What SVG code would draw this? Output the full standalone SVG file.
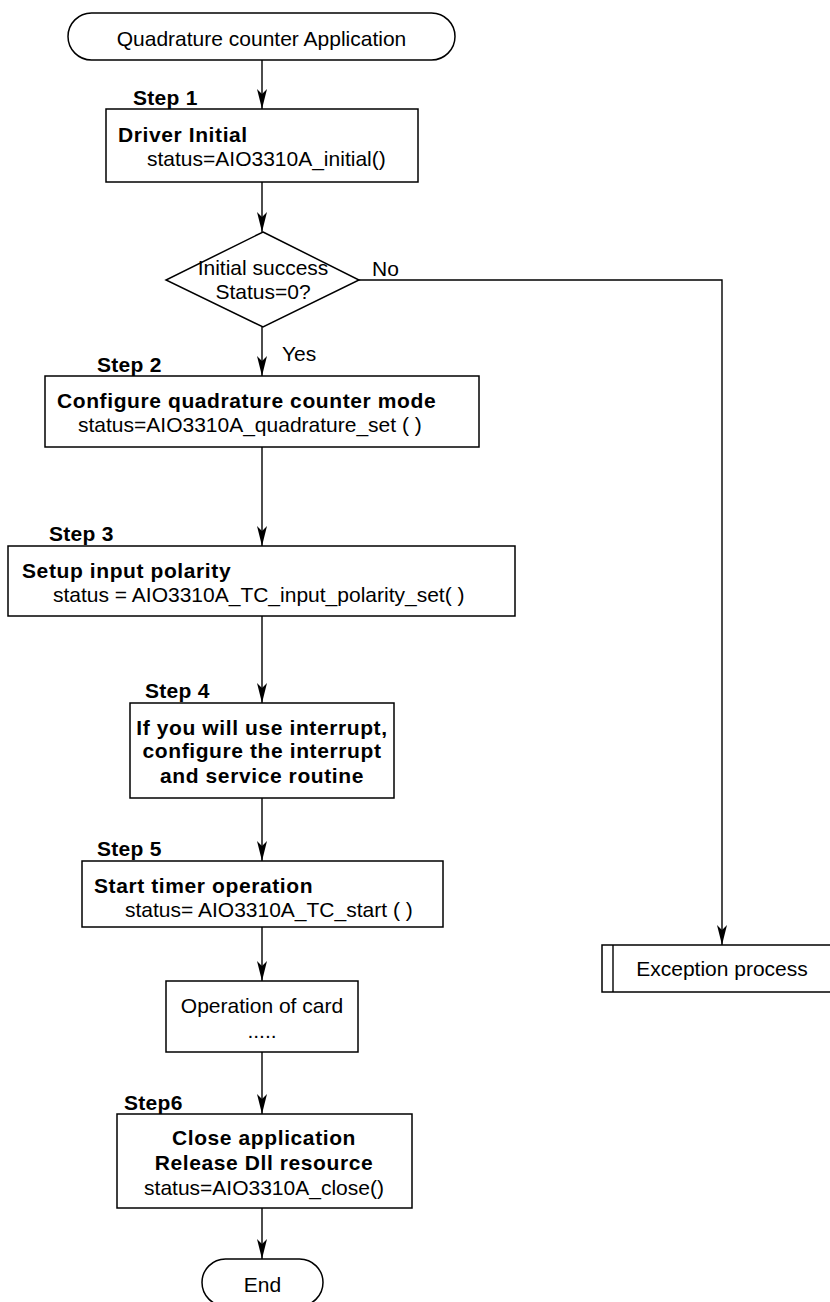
<svg xmlns="http://www.w3.org/2000/svg" width="830" height="1302" viewBox="0 0 830 1302">
<style>
.box{fill:#fff;stroke:#000;stroke-width:1.5}
.ln{fill:none;stroke:#000;stroke-width:1.4}
text{font-family:"Liberation Sans",Arial,sans-serif;font-size:21px;fill:#000}
.b{font-weight:bold;letter-spacing:0.6px}
.s{font-weight:bold;letter-spacing:0.3px}
.c{text-anchor:middle}
</style>
<defs>
<marker id="ah" markerUnits="userSpaceOnUse" markerWidth="12" markerHeight="22" viewBox="-6 -21 12 22" refX="0" refY="0" orient="auto-start-reverse" overflow="visible">
<path d="M0,0 L-5,-20 L0,-15 L5,-20 Z" fill="#000" transform="rotate(-90)"/>
</marker>
</defs>
<rect width="830" height="1302" fill="#fff"/>
<g id="connectors">
<line class="ln" x1="262" y1="60" x2="262" y2="109" marker-end="url(#ah)"/>
<line class="ln" x1="262" y1="182" x2="262" y2="232" marker-end="url(#ah)"/>
<line class="ln" x1="262" y1="327" x2="262" y2="376" marker-end="url(#ah)"/>
<polyline class="ln" points="359,280 722,280 722,945" marker-end="url(#ah)"/>
<line class="ln" x1="262" y1="447" x2="262" y2="546" marker-end="url(#ah)"/>
<line class="ln" x1="262" y1="616" x2="262" y2="703" marker-end="url(#ah)"/>
<line class="ln" x1="262" y1="798" x2="262" y2="861" marker-end="url(#ah)"/>
<line class="ln" x1="262" y1="927" x2="262" y2="981" marker-end="url(#ah)"/>
<line class="ln" x1="262" y1="1052" x2="262" y2="1114" marker-end="url(#ah)"/>
<line class="ln" x1="262" y1="1208" x2="262" y2="1259" marker-end="url(#ah)"/>
<text x="372" y="276">No</text>
<text x="282" y="361">Yes</text>
</g>
<g id="start">
<rect class="box" x="68" y="13" width="387" height="47" rx="23.5"/>
<text class="c" x="261.5" y="46">Quadrature counter Application</text>
</g>
<g id="step1">
<text class="s" x="133" y="105">Step 1</text>
<rect class="box" x="106" y="109" width="312" height="73"/>
<text class="b" x="118" y="142">Driver Initial</text>
<text x="147" y="166">status=AIO3310A_initial()</text>
</g>
<g id="decision">
<polygon class="box" points="263,232 359,280 263,327 166,280"/>
<text class="c" x="263" y="275">Initial success</text>
<text class="c" x="263" y="299">Status=0?</text>
</g>
<g id="step2">
<text class="s" x="97" y="372">Step 2</text>
<rect class="box" x="45" y="376" width="434" height="71"/>
<text class="b" x="57" y="408">Configure quadrature counter mode</text>
<text x="78" y="432">status=AIO3310A_quadrature_set ( )</text>
</g>
<g id="step3">
<text class="s" x="49" y="541">Step 3</text>
<rect class="box" x="8" y="546" width="507" height="70"/>
<text class="b" x="22" y="578">Setup input polarity</text>
<text x="53" y="602">status = AIO3310A_TC_input_polarity_set( )</text>
</g>
<g id="step4">
<text class="s" x="145" y="698">Step 4</text>
<rect class="box" x="130" y="703" width="264" height="95"/>
<text class="b c" x="262" y="735">If you will use interrupt,</text>
<text class="b c" x="262" y="758">configure the interrupt</text>
<text class="b c" x="262" y="783">and service routine</text>
</g>
<g id="step5">
<text class="s" x="97" y="856">Step 5</text>
<rect class="box" x="82" y="861" width="361" height="66"/>
<text class="b" x="94" y="893">Start timer operation</text>
<text x="125" y="917">status= AIO3310A_TC_start ( )</text>
</g>
<g id="operation">
<rect class="box" x="166" y="981" width="192" height="71"/>
<text class="c" x="262" y="1013">Operation of card</text>
<text class="c" x="262" y="1038">.....</text>
</g>
<g id="step6">
<text class="s" x="124" y="1110">Step6</text>
<rect class="box" x="117" y="1114" width="295" height="94"/>
<text class="b c" x="264" y="1145">Close application</text>
<text class="b c" x="264" y="1170">Release Dll resource</text>
<text class="c" x="264" y="1195">status=AIO3310A_close()</text>
</g>
<g id="end">
<rect class="box" x="202" y="1259" width="121" height="47" rx="23.5"/>
<text class="c" x="262.5" y="1292">End</text>
</g>
<g id="exception">
<rect class="box" x="602" y="945" width="240" height="47"/>
<line class="ln" x1="613" y1="945" x2="613" y2="992"/>
<text class="c" x="722" y="976">Exception process</text>
</g>
</svg>
